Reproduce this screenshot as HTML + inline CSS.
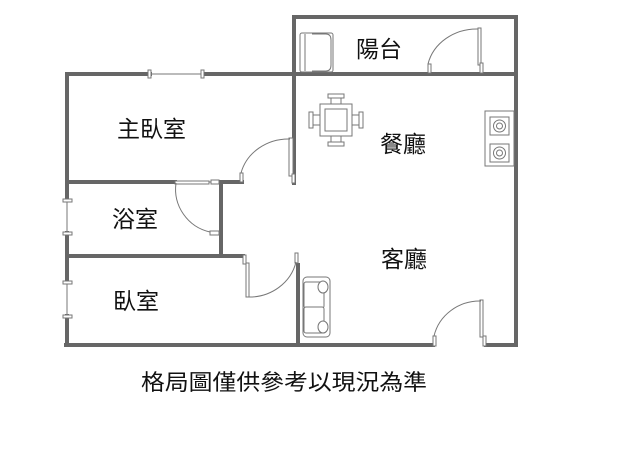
<!DOCTYPE html>
<html><head><meta charset="utf-8"><style>
html,body{margin:0;padding:0;background:#fff;}
svg{display:block;}
text{font-family:"Liberation Sans","Noto Sans CJK TC",sans-serif;fill:#111;}
</style></head><body>
<svg width="638" height="460" viewBox="0 0 638 460" xmlns="http://www.w3.org/2000/svg">
<g stroke="#666" stroke-width="4" fill="none" stroke-linecap="square">
<path d="M294 17 H516 V345"/>
<path d="M294 17 V183"/>
<path d="M67 74 H150 M203 74 H516"/>
<path d="M67 74 V200 M67 233 V282 M67 316 V345"/>
<path d="M67 182 H175 M218 182 H242"/>
<path d="M221 182 V255"/>
<path d="M67 256 H243"/>
<path d="M298 265 V345"/>
<path d="M66 345 H433 M486 345 H516"/>
</g>
<g stroke="#777" stroke-width="1" fill="#fff">
<line x1="150" y1="74" x2="203" y2="74"/>
<rect x="148" y="70" width="3" height="8"/><rect x="201" y="70" width="3" height="8"/>
<line x1="67" y1="200" x2="67" y2="233"/><line x1="67" y1="282" x2="67" y2="316"/>
<rect x="63" y="199" width="9" height="3"/><rect x="63" y="232" width="9" height="3"/>
<rect x="63" y="281" width="9" height="3"/><rect x="63" y="315" width="9" height="3"/>
<rect x="428" y="64" width="3" height="9"/><rect x="478" y="28" width="3" height="37"/><rect x="480" y="63" width="3" height="10"/>
<path d="M428 64 A50 45 0 0 1 478 29" fill="none"/>
<rect x="240" y="173" width="3" height="9"/><rect x="289" y="138" width="4" height="38"/><rect x="292" y="174" width="3" height="9"/>
<path d="M241 173 A49 45 0 0 1 290 139" fill="none"/>
<line x1="175" y1="182" x2="218" y2="182"/>
<rect x="175" y="181" width="34" height="3"/><rect x="211" y="180" width="8" height="4"/>
<path d="M176 183 A44 44 0 0 0 210 232" fill="none"/><rect x="210" y="231" width="9" height="4"/>
<rect x="243" y="255" width="3" height="9"/><rect x="246" y="263" width="3" height="34"/>
<rect x="295" y="253" width="3" height="10"/>
<path d="M248 297 A48 45 0 0 0 296 262" fill="none"/>
<rect x="433" y="336" width="3" height="10"/><rect x="480" y="300" width="3" height="37"/><rect x="483" y="336" width="3" height="10"/>
<path d="M434 336 A47 45 0 0 1 481 301" fill="none"/>
<rect x="300" y="33" width="33" height="39" rx="2"/>
<path d="M312 34 H326 Q331 34 331 40 V65 Q331 71 326 71 H312" fill="none"/>
<line x1="305" y1="34" x2="305" y2="71"/>
<rect x="320" y="104" width="32" height="32"/><rect x="325" y="109" width="22" height="22"/>
<rect x="328" y="94" width="16" height="4"/><rect x="331" y="98" width="10" height="6"/>
<rect x="328" y="142" width="16" height="4"/><rect x="331" y="136" width="10" height="6"/>
<rect x="309" y="112" width="4" height="16"/><rect x="313" y="115" width="7" height="10"/>
<rect x="359" y="112" width="4" height="16"/><rect x="352" y="115" width="7" height="10"/>
<rect x="485" y="111" width="29" height="55"/>
<rect x="490" y="117" width="19" height="18"/><circle cx="499.5" cy="126" r="6"/><circle cx="499.5" cy="126" r="3"/>
<rect x="490" y="144" width="19" height="18"/><circle cx="499.5" cy="153" r="6"/><circle cx="499.5" cy="153" r="3"/>
<rect x="303" y="277" width="27" height="60" rx="4"/>
<rect x="304" y="282" width="20" height="26" rx="2"/><rect x="304" y="307" width="20" height="26" rx="2"/>
<ellipse cx="323" cy="287" rx="5" ry="6"/><ellipse cx="323" cy="327" rx="5" ry="6"/>
</g>
<g font-size="23">
<text x="356" y="57">陽台</text>
<text x="117" y="137">主臥室</text>
<text x="380" y="152">餐廳</text>
<text x="112" y="227">浴室</text>
<text x="381" y="267">客廳</text>
<text x="113" y="309">臥室</text>
</g>
<text x="141" y="390" font-size="22" textLength="286" lengthAdjust="spacingAndGlyphs">格局圖僅供參考以現況為準</text>
</svg>
</body></html>
